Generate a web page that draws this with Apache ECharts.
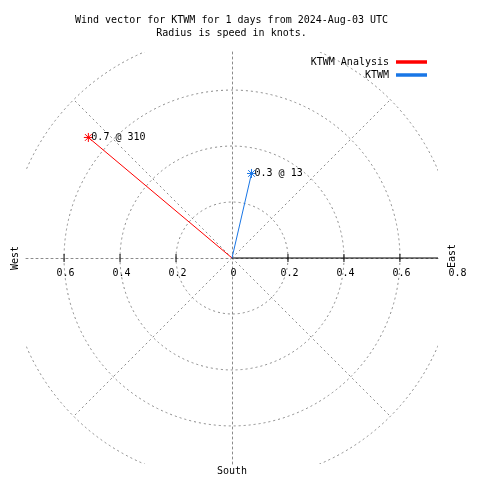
<!DOCTYPE html>
<html><head><meta charset="utf-8">
<script src="https://cdn.jsdelivr.net/npm/echarts@6/dist/echarts.min.js"></script>
<style>html,body{margin:0;padding:0;background:#fff}#c{width:480px;height:480px}</style>
</head><body><div id="c"></div>
<script>
// ---- data ----
const titleLines = ['Wind vector for KTWM for 1 days from 2024-Aug-03 UTC', 'Radius is speed in knots.'];
const seriesNames = ['KTWM Analysis', 'KTWM'];
const seriesColors = ['#ff0000', '#1976e6'];
const speeds = [0.67, 0.31];          // knots
const directions = [310, 13];         // degrees, compass
const pointLabels = ['0.7 @ 310', '0.3 @ 13'];
const ringValues = [0.2, 0.4, 0.6, 0.8];
const spokeAngles = [45, 135, 225, 315];
const tickValues = [-0.6, -0.4, -0.2, 0.2, 0.4, 0.6];
const compassLabels = ['West', 'East', 'South'];

// ---- styling ----
const FONT = '"DejaVu Sans Mono", monospace';
const GRID = '#8a8a8a';
const DASH = [2, 3];
const VIEW = 0.736;
const ASTER = 'path://M0,-4L0,4M-4,0L4,0M-3,-3L3,3M-3,3L3,-3';

const chart = echarts.init(document.getElementById('c'), null, {renderer: 'canvas'});

const vectorSeries = seriesNames.map((name, i) => {
  const rad = directions[i] * Math.PI / 180;
  const end = [speeds[i] * Math.sin(rad), speeds[i] * Math.cos(rad)];
  const col = seriesColors[i];
  return {
    type: 'line', name, xAxisIndex: 0, yAxisIndex: 0, z: 5, silent: true,
    color: col,
    lineStyle: {color: col, width: 1},
    symbol: ASTER, symbolSize: 9,
    itemStyle: {color: col, borderColor: col, borderWidth: 1},
    data: [
      {value: [0, 0], symbol: 'none'},
      {value: end, label: {show: true, position: 'right', distance: -2, formatter: pointLabels[i],
        fontFamily: FONT, fontSize: 10, color: '#000'}}
    ]
  };
});

const option = {
  animation: false,
  backgroundColor: '#fff',
  title: {
    text: titleLines.join('\n'), left: 231.5, top: 13.5, padding: 0, textAlign: 'center',
    textStyle: {fontFamily: FONT, fontSize: 10, fontWeight: 'normal', color: '#000', lineHeight: 13}
  },
  legend: {
    data: seriesNames, orient: 'vertical', right: 53, top: 55.5, align: 'right',
    icon: 'rect', itemWidth: 29, itemHeight: 1.5, itemGap: 0, padding: 0,
    textStyle: {fontFamily: FONT, fontSize: 10, color: '#000', lineHeight: 13, padding: [0, 3, 0, 0]}
  },
  grid: [
    {left: 26, top: 52, width: 412, height: 412, outerBoundsMode: 'none', containLabel: false},
    {left: 8, top: 52, width: 448, height: 206, outerBoundsMode: 'none', containLabel: false}
  ],
  xAxis: [
    {type: 'value', gridIndex: 0, min: -VIEW, max: VIEW,
     axisLine: {show: true, onZero: true, lineStyle: {color: GRID, width: 1, type: DASH}},
     axisTick: {show: false}, axisLabel: {show: false}, splitLine: {show: false}},
    {type: 'value', gridIndex: 1, min: -0.8, max: 0.8, interval: 0.2, position: 'bottom',
     axisLine: {show: false}, axisTick: {show: false}, splitLine: {show: false},
     axisLabel: {show: true, margin: 10, padding: [0, 0, 0, 3], fontFamily: FONT, fontSize: 10, color: '#000',
       formatter: v => (Math.abs(v + 0.8) < 1e-6 ? '' : String(Math.abs(Math.round(v * 10) / 10)))}}
  ],
  yAxis: [
    {type: 'value', gridIndex: 0, min: -VIEW, max: VIEW,
     axisLine: {show: true, onZero: true, lineStyle: {color: GRID, width: 1, type: DASH}},
     axisTick: {show: false}, axisLabel: {show: false}, splitLine: {show: false}},
    {type: 'value', gridIndex: 1, min: 0, max: 1, show: false}
  ],
  graphic: [
    {type: 'text', x: 15, y: 258, rotation: Math.PI / 2, style: {text: compassLabels[0], font: '10px ' + FONT, fill: '#000', align: 'center', verticalAlign: 'middle', textAlign: 'center', textVerticalAlign: 'middle'}},
    {type: 'text', x: 452, y: 256, rotation: Math.PI / 2, style: {text: compassLabels[1], font: '10px ' + FONT, fill: '#000', align: 'center', verticalAlign: 'middle', textAlign: 'center', textVerticalAlign: 'middle'}},
    {type: 'text', x: 232, y: 471, style: {text: compassLabels[2], font: '10px ' + FONT, fill: '#000', align: 'center', verticalAlign: 'middle', textAlign: 'center', textVerticalAlign: 'middle'}}
  ],
  series: [
    {
      type: 'custom', name: 'rings', xAxisIndex: 0, yAxisIndex: 0, clip: true, silent: true, z: 1,
      data: ringValues.map(v => [v]),
      renderItem: (p, api) => {
        const c = api.coord([0, 0]);
        const r = api.size([api.value(0), 0])[0];
        return {type: 'circle', shape: {cx: c[0], cy: c[1], r},
          style: {fill: 'none', stroke: GRID, lineWidth: 1, lineDash: DASH}};
      }
    },
    {
      type: 'custom', name: 'spokes', xAxisIndex: 0, yAxisIndex: 0, clip: true, silent: true, z: 1,
      data: spokeAngles.map(a => [a]),
      renderItem: (p, api) => {
        const a = api.value(0) * Math.PI / 180;
        const R = ringValues[ringValues.length - 1];
        const c = api.coord([0, 0]);
        const e = api.coord([R * Math.sin(a), R * Math.cos(a)]);
        return {type: 'line', shape: {x1: c[0], y1: c[1], x2: e[0], y2: e[1]},
          style: {stroke: GRID, lineWidth: 1, lineDash: DASH}};
      }
    },
    {
      type: 'custom', name: 'raxis', xAxisIndex: 0, yAxisIndex: 0, clip: true, silent: true, z: 3,
      data: [[ringValues[ringValues.length - 1]]],
      renderItem: (p, api) => {
        const c = api.coord([0, 0]);
        const e = api.coord([api.value(0), 0]);
        return {type: 'line', shape: {x1: c[0], y1: c[1], x2: e[0], y2: e[1]},
          style: {stroke: '#000', lineWidth: 1}};
      }
    },
    {
      type: 'custom', name: 'ticks', xAxisIndex: 0, yAxisIndex: 0, clip: true, silent: true, z: 3,
      data: tickValues.map(v => [v]),
      renderItem: (p, api) => {
        const t = api.coord([api.value(0), 0]);
        return {type: 'line', shape: {x1: t[0], y1: t[1] - 4, x2: t[0], y2: t[1] + 4},
          style: {stroke: '#000', lineWidth: 1}};
      }
    }
  ].concat(vectorSeries)
};
chart.setOption(option);
</script>
</body></html>
